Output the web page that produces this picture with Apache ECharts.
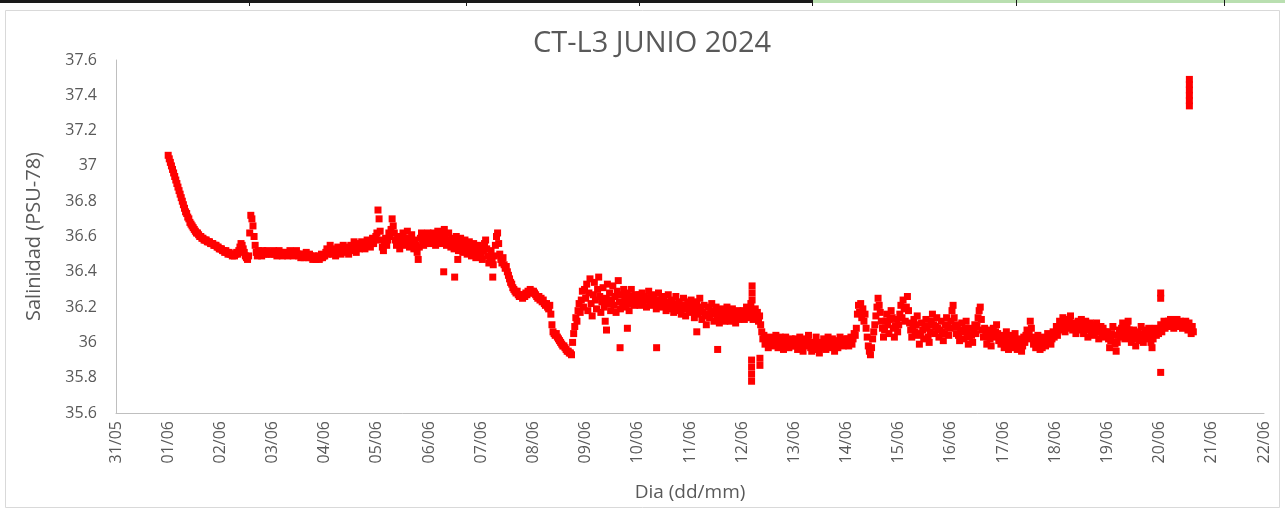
<!DOCTYPE html>
<html>
<head>
<meta charset="utf-8">
<title>CT-L3 JUNIO 2024</title>
<script src="https://cdn.jsdelivr.net/npm/echarts@6/dist/echarts.min.js"></script>
<style>
  html, body { margin: 0; padding: 0; background: #ffffff; }
  #chart { width: 1285px; height: 511px; }
</style>
</head>
<body>
<div id="chart"></div>
<script>
// Half-hourly salinity record of station CT-L3, starting 01/06/2024 00:00.
// X positions are expressed in days counted from 31/05 00:00.
const START_DAY = 1;
const STEP_HOURS = 0.5;

const salinity = [
  // 01/06
  37.06, 37.04, 37.02, 37.00, 36.98, 36.96, 36.94, 36.92, 36.90, 36.88, 36.86, 36.84,
  36.82, 36.80, 36.78, 36.76, 36.74, 36.73, 36.71, 36.70, 36.68, 36.67, 36.66, 36.65,
  36.64, 36.63, 36.62, 36.62, 36.61, 36.60, 36.60, 36.59, 36.59, 36.58, 36.58, 36.58,
  36.57, 36.57, 36.57, 36.56, 36.56, 36.56, 36.55, 36.55, 36.55, 36.54, 36.54, 36.53,
  // 02/06
  36.53, 36.53, 36.52, 36.52, 36.51, 36.52, 36.51, 36.50, 36.51, 36.50, 36.50, 36.49,
  36.50, 36.49, 36.50, 36.51, 36.50, 36.52, 36.54, 36.56, 36.55, 36.53, 36.51, 36.49,
  36.48, 36.47, 36.49, 36.62, 36.72, 36.70, 36.66, 36.60, 36.55, 36.51, 36.49, 36.52,
  36.50, 36.51, 36.49, 36.52, 36.50, 36.51, 36.50, 36.52, 36.51, 36.50, 36.51, 36.50,
  // 03/06
  36.51, 36.52, 36.50, 36.51, 36.49, 36.50, 36.52, 36.51, 36.50, 36.49, 36.51, 36.50,
  36.50, 36.51, 36.49, 36.50, 36.52, 36.51, 36.50, 36.49, 36.50, 36.51, 36.52, 36.50,
  36.49, 36.50, 36.48, 36.49, 36.50, 36.48, 36.49, 36.51, 36.49, 36.48, 36.50, 36.49,
  36.48, 36.47, 36.49, 36.48, 36.47, 36.48, 36.49, 36.47, 36.48, 36.50, 36.48, 36.49,
  // 04/06
  36.49, 36.51, 36.53, 36.50, 36.52, 36.55, 36.52, 36.50, 36.53, 36.51, 36.49, 36.52,
  36.54, 36.51, 36.53, 36.50, 36.52, 36.55, 36.53, 36.51, 36.54, 36.52, 36.50, 36.53,
  36.55, 36.52, 36.54, 36.57, 36.53, 36.51, 36.54, 36.56, 36.53, 36.55, 36.57, 36.54,
  36.56, 36.53, 36.55, 36.58, 36.55, 36.57, 36.54, 36.56, 36.59, 36.56, 36.58, 36.60,
  // 05/06
  36.62, 36.75, 36.70, 36.63, 36.58, 36.54, 36.52, 36.56, 36.59, 36.55, 36.58, 36.62,
  36.60, 36.64, 36.70, 36.66, 36.62, 36.58, 36.55, 36.60, 36.57, 36.53, 36.56, 36.60,
  36.62, 36.58, 36.55, 36.59, 36.63, 36.58, 36.54, 36.57, 36.61, 36.56, 36.53, 36.58,
  36.55, 36.51, 36.47, 36.54, 36.59, 36.62, 36.57, 36.55, 36.60, 36.56, 36.59, 36.62,
  // 06/06
  36.58, 36.61, 36.56, 36.59, 36.62, 36.57, 36.55, 36.60, 36.63, 36.58, 36.56, 36.60,
  36.57, 36.61, 36.64, 36.59, 36.55, 36.58, 36.62, 36.57, 36.54, 36.59, 36.56, 36.53,
  36.57, 36.60, 36.55, 36.52, 36.56, 36.59, 36.54, 36.51, 36.55, 36.58, 36.53, 36.50,
  36.54, 36.57, 36.52, 36.49, 36.53, 36.56, 36.51, 36.48, 36.52, 36.55, 36.50, 36.53,
  // 07/06
  36.50, 36.47, 36.52, 36.56, 36.58, 36.53, 36.49, 36.45, 36.48, 36.52, 36.47, 36.44,
  36.49, 36.55, 36.60, 36.62, 36.56, 36.50, 36.47, 36.45, 36.48, 36.44, 36.42, 36.43,
  36.40, 36.38, 36.36, 36.34, 36.33, 36.31, 36.30, 36.29, 36.28, 36.29, 36.27, 36.26,
  36.27, 36.26, 36.25, 36.27, 36.26, 36.28, 36.27, 36.29, 36.28, 36.30, 36.29, 36.28,
  // 08/06
  36.29, 36.28, 36.27, 36.26, 36.25, 36.26, 36.24, 36.25, 36.23, 36.24, 36.22, 36.21,
  36.22, 36.20, 36.19, 36.21, 36.16, 36.10, 36.06, 36.05, 36.04, 36.05, 36.03, 36.02,
  36.01, 36.00, 35.99, 35.98, 35.98, 35.97, 35.96, 35.95, 35.95, 35.94, 35.94, 35.93,
  36.00, 36.05, 36.09, 36.14, 36.12, 36.18, 36.22, 36.17, 36.24, 36.29, 36.20, 36.30,
  // 09/06
  36.25, 36.33, 36.18, 36.28, 36.36, 36.22, 36.15, 36.27, 36.34, 36.24, 36.19, 36.30,
  36.37, 36.26, 36.17, 36.23, 36.31, 36.20, 36.12, 36.25, 36.33, 36.22, 36.28, 36.18,
  36.24, 36.32, 36.21, 36.26, 36.17, 36.29, 36.35, 36.23, 36.19, 36.27, 36.22, 36.30,
  36.25, 36.20, 36.28, 36.23, 36.18, 36.26, 36.30, 36.22, 36.25, 36.21, 36.27, 36.24,
  // 10/06
  36.23, 36.27, 36.21, 36.25, 36.28, 36.22, 36.26, 36.24, 36.20, 36.25, 36.29, 36.23,
  36.26, 36.21, 36.24, 36.27, 36.22, 36.19, 36.24, 36.28, 36.23, 36.20, 36.25, 36.22,
  36.26, 36.21, 36.18, 36.23, 36.27, 36.22, 36.19, 36.24, 36.20, 36.17, 36.22, 36.26,
  36.21, 36.18, 36.23, 36.19, 36.16, 36.21, 36.25, 36.19, 36.15, 36.20, 36.23, 36.18,
  // 11/06
  36.20, 36.24, 36.17, 36.21, 36.14, 36.19, 36.23, 36.16, 36.20, 36.25, 36.18, 36.13,
  36.17, 36.21, 36.15, 36.10, 36.16, 36.20, 36.14, 36.18, 36.22, 36.16, 36.12, 36.17,
  36.20, 36.14, 36.18, 36.11, 36.15, 36.19, 36.13, 36.17, 36.12, 36.16, 36.20, 36.14,
  36.17, 36.12, 36.15, 36.19, 36.13, 36.16, 36.11, 36.15, 36.18, 36.13, 36.16, 36.14,
  // 12/06
  36.15, 36.18, 36.13, 36.17, 36.20, 36.16, 36.14, 36.19, 36.22, 36.17, 36.13, 36.16,
  36.19, 36.14, 36.17, 36.12, 36.15, 36.10, 36.06, 36.02, 36.04, 35.99, 36.02, 36.00,
  35.97, 36.01, 36.03, 35.99, 36.02, 35.98, 36.01, 36.04, 36.00, 35.97, 36.01, 36.03,
  35.99, 36.02, 35.96, 36.00, 36.03, 35.98, 36.01, 35.97, 35.99, 36.02, 35.98, 36.00,
  // 13/06
  35.98, 36.02, 36.00, 35.96, 35.99, 36.03, 36.01, 35.97, 35.95, 35.99, 36.02, 35.98,
  36.01, 36.04, 36.00, 35.97, 35.95, 35.98, 35.96, 36.00, 36.03, 35.99, 35.96, 35.94,
  35.97, 36.00, 35.98, 36.02, 35.99, 35.96, 36.00, 36.03, 36.01, 35.97, 35.99, 36.02,
  35.98, 35.95, 35.99, 36.01, 35.97, 36.00, 36.03, 35.99, 36.01, 35.98, 36.02, 36.00,
  // 14/06
  36.00, 36.02, 35.98, 36.01, 36.03, 35.99, 36.02, 36.05, 36.04, 36.08, 36.16, 36.21,
  36.17, 36.22, 36.14, 36.19, 36.12, 36.16, 36.08, 36.03, 35.98, 35.95, 35.93, 35.97,
  36.02, 36.06, 36.10, 36.15, 36.20, 36.25, 36.21, 36.17, 36.12, 36.08, 36.03, 36.07,
  36.12, 36.16, 36.10, 36.05, 36.13, 36.18, 36.14, 36.08, 36.03, 36.09, 36.13, 36.06,
  // 15/06
  36.10, 36.16, 36.21, 36.14, 36.24, 36.19, 36.12, 36.20, 36.26, 36.18, 36.11, 36.07,
  36.03, 36.08, 36.13, 36.06, 36.10, 36.15, 36.04, 35.99, 36.05, 36.11, 36.07, 36.02,
  36.08, 36.13, 36.09, 36.03, 36.00, 36.06, 36.12, 36.16, 36.10, 36.05, 36.09, 36.14,
  36.08, 36.03, 36.07, 36.12, 36.06, 36.01, 36.05, 36.10, 36.14, 36.09, 36.04, 36.08,
  // 16/06
  36.12, 36.18, 36.21, 36.14, 36.09, 36.05, 36.10, 36.04, 36.01, 36.07, 36.11, 36.06,
  36.02, 36.08, 36.12, 36.05, 35.99, 36.03, 36.08, 36.04, 36.00, 36.06, 36.10, 36.05,
  36.09, 36.14, 36.18, 36.20, 36.13, 36.07, 36.03, 36.08, 36.04, 35.99, 36.03, 36.07,
  36.02, 35.98, 36.04, 36.08, 36.03, 36.06, 36.10, 36.05, 36.01, 36.04, 35.99, 36.03,
  // 17/06
  36.01, 35.97, 36.03, 36.06, 36.00, 35.96, 35.99, 36.04, 36.01, 35.97, 36.02, 36.05,
  36.00, 35.96, 35.98, 36.02, 35.99, 35.95, 35.98, 36.03, 36.00, 36.04, 36.07, 36.02,
  36.06, 36.12, 36.08, 36.03, 35.99, 36.02, 35.97, 36.00, 36.04, 35.98, 35.96, 36.01,
  35.97, 36.00, 36.03, 35.98, 36.01, 36.05, 36.00, 36.03, 35.99, 36.02, 36.06, 36.03,
  // 18/06
  36.05, 36.09, 36.04, 36.08, 36.12, 36.07, 36.10, 36.14, 36.09, 36.06, 36.11, 36.13,
  36.08, 36.12, 36.15, 36.10, 36.07, 36.11, 36.08, 36.05, 36.09, 36.12, 36.07, 36.10,
  36.13, 36.08, 36.05, 36.09, 36.12, 36.07, 36.03, 36.08, 36.11, 36.06, 36.10, 36.07,
  36.04, 36.08, 36.11, 36.06, 36.02, 36.06, 36.09, 36.05, 36.08, 36.03, 36.06, 36.04,
  // 19/06
  36.06, 36.02, 35.97, 36.01, 36.05, 36.09, 36.04, 35.99, 35.95, 36.00, 36.04, 36.07,
  36.03, 36.08, 36.11, 36.06, 36.02, 36.05, 36.09, 36.12, 36.07, 36.03, 36.00, 36.04,
  36.07, 36.02, 35.98, 36.03, 36.06, 36.01, 36.05, 36.09, 36.04, 36.00, 36.03, 36.07,
  36.02, 36.05, 36.08, 36.04, 36.00, 35.97, 36.02, 36.05, 36.08, 36.04, 36.07, 36.05,
  // 20/06
  36.07, 36.10, 36.06, 36.09, 36.12, 36.08, 36.11, 36.09, 36.12, 36.10, 36.13, 36.09,
  36.11, 36.08, 36.12, 36.10, 36.13, 36.11, 36.09, 36.12, 36.10, 36.08, 36.11, 36.09,
  36.12, 36.10, 36.07, 36.11, 36.08, 36.05, 36.09, 36.06
];

// Isolated readings: day offset from 31/05 and salinity
const extraDays = [
  6.28, 6.49, 6.55, 7.22,
  9.40, 9.66, 9.80, 10.36, 11.13, 11.53,
  12.18, 12.18, 12.18, 12.18, 12.19, 12.19, 12.19, 12.34, 12.34,
  20.02, 20.02, 20.02,
  20.57, 20.57, 20.57, 20.57, 20.57, 20.57
];
const extraValues = [
  36.40, 36.37, 36.47, 36.37,
  36.07, 35.97, 36.08, 35.97, 36.06, 35.96,
  35.78, 35.82, 35.86, 35.90, 36.32, 36.28, 36.24, 35.87, 35.91,
  36.28, 36.25, 35.83,
  37.34, 37.37, 37.40, 37.43, 37.46, 37.49
];

const dayLabels = [
  '31/05', '01/06', '02/06', '03/06', '04/06', '05/06', '06/06', '07/06',
  '08/06', '09/06', '10/06', '11/06', '12/06', '13/06', '14/06', '15/06',
  '16/06', '17/06', '18/06', '19/06', '20/06', '21/06', '22/06'
];

const points = salinity.map((v, i) => [START_DAY + (i * STEP_HOURS) / 24, v]);
extraDays.forEach((d, i) => points.push([d, extraValues[i]]));

const TEXT = '#595959';
const AXIS = '#BFBFBF';
const FONT = 'Open Sans';

const chart = echarts.init(document.getElementById('chart'), null, { renderer: 'canvas' });
chart.setOption({
  animation: false,
  backgroundColor: '#ffffff',
  textStyle: { fontFamily: FONT },
  title: {
    text: 'CT-L3 JUNIO 2024',
    left: 528,
    top: 24,
    textStyle: { fontFamily: FONT, fontSize: 29, fontWeight: 'normal', color: TEXT }
  },
  grid: { left: 116, right: 21, top: 60, bottom: 98, containLabel: false, outerBoundsMode: 'none' },
  xAxis: {
    type: 'value',
    min: 0,
    max: dayLabels.length - 1,
    interval: 1,
    name: 'Dia (dd/mm)',
    nameLocation: 'middle',
    nameGap: 70,
    nameTextStyle: { fontFamily: FONT, fontSize: 19, color: TEXT },
    axisLine: { lineStyle: { color: AXIS, width: 1 } },
    axisTick: { show: false },
    splitLine: { show: false },
    axisLabel: {
      rotate: 90,
      margin: 8,
      fontFamily: FONT,
      fontSize: 16,
      color: TEXT,
      formatter: v => dayLabels[Math.round(v)] || ''
    }
  },
  yAxis: {
    type: 'value',
    min: 35.6,
    max: 37.6,
    interval: 0.2,
    name: 'Salinidad (PSU-78)',
    nameLocation: 'middle',
    nameRotate: 90,
    nameGap: 72,
    nameTextStyle: { fontFamily: FONT, fontSize: 20, color: TEXT },
    axisLine: { show: true, lineStyle: { color: AXIS, width: 1 } },
    axisTick: { show: false },
    splitLine: { show: false },
    axisLabel: {
      margin: 19,
      fontFamily: FONT,
      fontSize: 16,
      color: TEXT,
      formatter: v => String(+v.toFixed(1))
    }
  },
  graphic: [
    // chart area frame
    { type: 'rect', shape: { x: 5.5, y: 10.5, width: 1274, height: 497 },
      style: { fill: null, stroke: '#D9D9D9', lineWidth: 1 }, silent: true },
    // worksheet cell borders along the top edge
    { type: 'rect', shape: { x: 0, y: 0, width: 812, height: 3 }, style: { fill: '#1a1a1a' }, silent: true },
    { type: 'rect', shape: { x: 812, y: 0, width: 473, height: 3 }, style: { fill: '#b9dfb0' }, silent: true },
    { type: 'rect', shape: { x: 249, y: 0, width: 1, height: 6 }, style: { fill: '#1a1a1a' }, silent: true },
    { type: 'rect', shape: { x: 466, y: 0, width: 1, height: 6 }, style: { fill: '#1a1a1a' }, silent: true },
    { type: 'rect', shape: { x: 639, y: 0, width: 1, height: 6 }, style: { fill: '#1a1a1a' }, silent: true },
    { type: 'rect', shape: { x: 812, y: 0, width: 1, height: 6 }, style: { fill: '#1a1a1a' }, silent: true },
    { type: 'rect', shape: { x: 1016, y: 0, width: 1, height: 6 }, style: { fill: '#1a1a1a' }, silent: true },
    { type: 'rect', shape: { x: 1224, y: 0, width: 1, height: 6 }, style: { fill: '#1a1a1a' }, silent: true }
  ],
  series: [{
    type: 'scatter',
    data: points,
    symbol: 'rect',
    symbolSize: 7,
    itemStyle: { color: '#FF0000', opacity: 1 },
    emphasis: { disabled: true }
  }]
});
</script>
</body>
</html>
